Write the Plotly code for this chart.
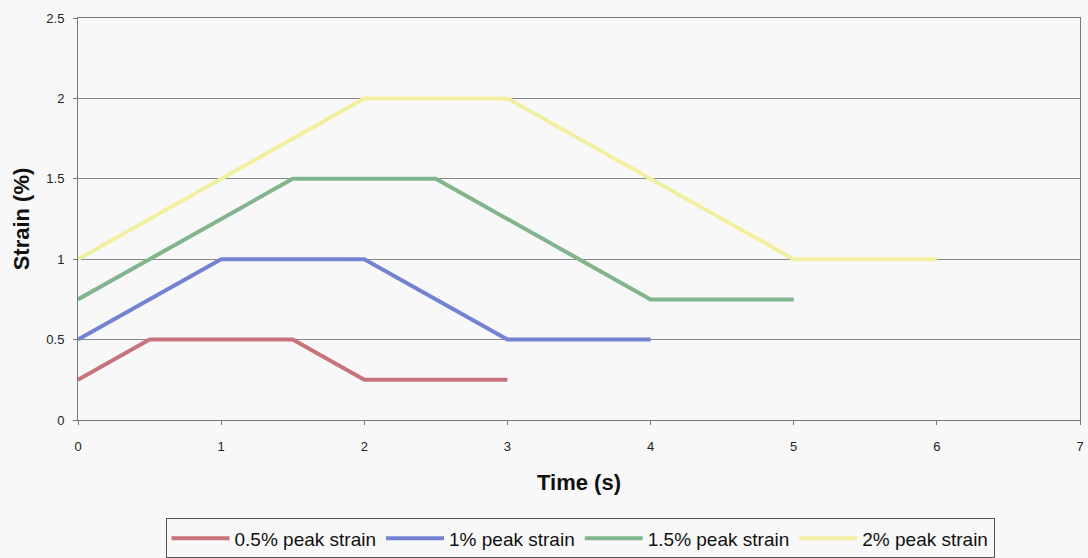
import plotly.graph_objects as go

# Strain-time protocols for each peak strain level
time_05 = [0, 0.5, 1.5, 2, 3]
strain_05 = [0.25, 0.5, 0.5, 0.25, 0.25]

time_10 = [0, 1, 2, 3, 4]
strain_10 = [0.5, 1.0, 1.0, 0.5, 0.5]

time_15 = [0, 1.5, 2.5, 4, 5]
strain_15 = [0.75, 1.5, 1.5, 0.75, 0.75]

time_20 = [0, 2, 3, 5, 6]
strain_20 = [1.0, 2.0, 2.0, 1.0, 1.0]

series_names = ["0.5% peak strain", "1% peak strain", "1.5% peak strain", "2% peak strain"]
series_colors = ["#c8727c", "#7482d2", "#82b48e", "#f2f0a0"]

x_ticks = [0, 1, 2, 3, 4, 5, 6, 7]
y_ticks = [0, 0.5, 1, 1.5, 2, 2.5]

fig = go.Figure()
for xs, ys, name, color in zip(
    [time_05, time_10, time_15, time_20],
    [strain_05, strain_10, strain_15, strain_20],
    series_names,
    series_colors,
):
    fig.add_trace(go.Scatter(
        x=xs, y=ys, mode="lines", name=name,
        line=dict(color=color, width=4),
    ))

fig.update_layout(
    width=1088, height=558,
    margin=dict(l=78, r=8, t=18, b=138, autoexpand=False),
    paper_bgcolor="#f8f8f8",
    plot_bgcolor="#f8f8f8",
    font=dict(family="Liberation Sans, Arial, sans-serif", color="#222222", size=13),
    showlegend=True,
    legend=dict(
        orientation="h",
        x=0.501, xanchor="center",
        y=-0.245, yanchor="top",
        bordercolor="#555555", borderwidth=1,
        bgcolor="#f8f8f8",
        font=dict(size=19, color="#111111"),
        itemwidth=58,
        tracegroupgap=0,
    ),
)

fig.update_xaxes(
    range=[0, 7], tickvals=x_ticks, ticktext=[str(v) for v in x_ticks],
    showgrid=False, zeroline=False,
    showline=True, linecolor="#777777", linewidth=1, mirror=True,
    ticks="outside", ticklen=4, tickcolor="#777777",
    tickfont=dict(size=13), ticklabelstandoff=10,
    title=dict(text="<b>Time (s)</b>", font=dict(size=22, color="#111111"), standoff=22),
)
fig.update_yaxes(
    range=[0, 2.5], tickvals=y_ticks, ticktext=["0", "0.5", "1", "1.5", "2", "2.5"],
    showgrid=True, gridcolor="#888888", gridwidth=1, zeroline=False,
    showline=True, linecolor="#777777", linewidth=1, mirror=True,
    ticks="outside", ticklen=4, tickcolor="#777777",
    tickfont=dict(size=13), ticklabelstandoff=6,
    title=dict(text="<b>Strain (%)</b>", font=dict(size=22, color="#111111"), standoff=10),
)

fig.write_html("out.html")
